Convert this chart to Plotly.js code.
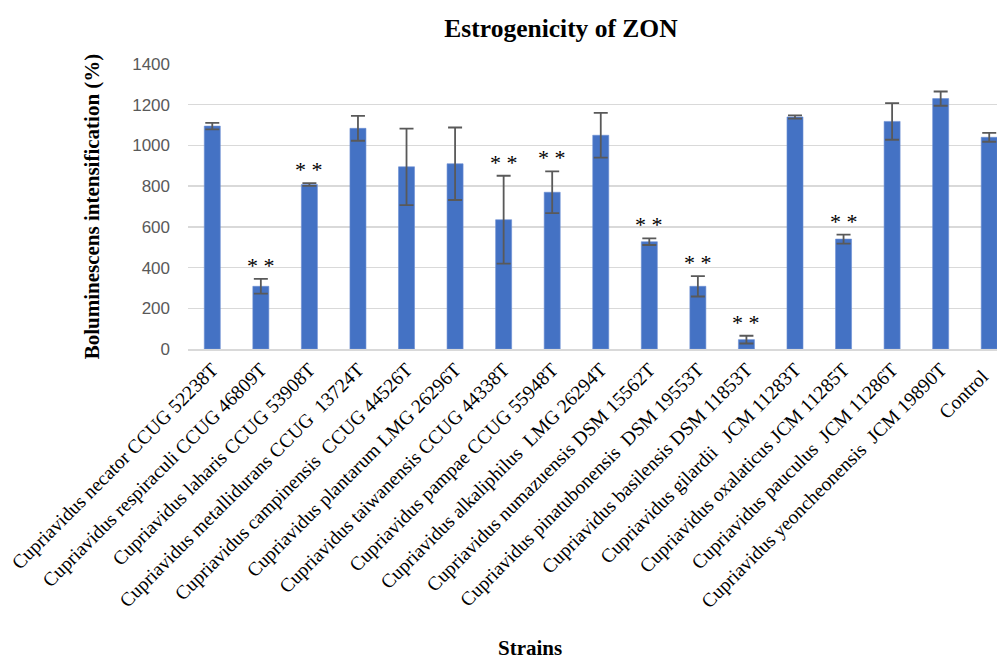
<!DOCTYPE html>
<html><head><meta charset="utf-8">
<script src="https://cdn.plot.ly/plotly-3.0.1.min.js"></script>
<style>html,body{margin:0;padding:0;background:#fff;}#chart{width:997px;height:661px;}</style>
</head><body><div id="chart"></div>
<script>
const NB = "\u00a0";
const strains = [
  "Cupriavidus necator CCUG 52238T",
  "Cupriavidus respiraculi CCUG 46809T",
  "Cupriavidus laharis CCUG 53908T",
  "Cupriavidus metallidurans CCUG " + NB + "13724T",
  "Cupriavidus campinensis " + NB + "CCUG 44526T",
  "Cupriavidus plantarum LMG 26296T",
  "Cupriavidus taiwanensis CCUG 44338T",
  "Cupriavidus pampae CCUG 55948T",
  "Cupriavidus alkaliphilus " + NB + "LMG 26294T",
  "Cupriavidus numazuensis DSM 15562T",
  "Cupriavidus pinatubonensis " + NB + "DSM 19553T",
  "Cupriavidus basilensis DSM 11853T",
  "Cupriavidus gilardii " + NB + NB + "JCM 11283T",
  "Cupriavidus oxalaticus JCM 11285T",
  "Cupriavidus pauculus " + NB + "JCM 11286T",
  "Cupriavidus yeoncheonensis " + NB + "JCM 19890T",
  "Control" + NB + NB
];
const intensification = [1095, 308, 808, 1084, 895, 910, 635, 770, 1050, 527, 308, 46, 1140, 540, 1118, 1230, 1040];
const errors = [16, 36, 7, 61, 188, 178, 216, 103, 110, 16, 50, 19, 8, 22, 90, 35, 22];
const significant = [false, true, true, false, false, false, true, true, false, true, true, true, false, true, false, false, false];

const serif = "'Liberation Serif', 'Times New Roman', serif";
const plotW = 809;

const annotations = [];
strains.forEach((s, i) => {
  if (significant[i]) {
    annotations.push({
      x: s, y: intensification[i] + errors[i], xref: 'x', yref: 'y',
      text: '* *', showarrow: false, yanchor: 'bottom', yshift: -1,
      font: {family: serif, size: 22, color: '#000'}
    });
  }
});
annotations.push({
  text: '<b>Strains</b>', xref: 'paper', yref: 'paper', x: (530 - 188) / plotW, y: -(648 - 349) / 285,
  xanchor: 'center', yanchor: 'middle', showarrow: false,
  font: {family: serif, size: 21, color: '#000'}
});

const trace = {
  type: 'bar', x: strains, y: intensification,
  width: 0.33,
  marker: {color: '#4472C4', line: {color: '#6b8fd3', width: 0.6}},
  error_y: {type: 'data', array: errors, visible: true, color: '#595959', thickness: 1.8, width: 7}
};

const layout = {
  width: 997, height: 661,
  margin: {l: 188, r: 0, t: 64, b: 312},
  paper_bgcolor: '#fff', plot_bgcolor: '#fff',
  showlegend: false,
  title: {text: '<b>Estrogenicity of ZON</b>', font: {family: serif, size: 25.5, color: '#000'},
          xref: 'paper', x: (561 - 188) / plotW, xanchor: 'center', y: 1 - 28 / 661, yref: 'container', yanchor: 'middle'},
  xaxis: {
    type: 'category', range: [-0.5, 16.16], tickangle: -45,
    tickfont: {family: serif, size: 19.5, color: '#000'},
    showgrid: false, showline: true, linecolor: '#d9d9d9', linewidth: 1.5,
    ticks: '', automargin: false
  },
  yaxis: {
    range: [0, 1400], dtick: 200, tick0: 0,
    tickfont: {family: "'Liberation Sans', Arial, sans-serif", size: 17, color: '#595959'},
    gridcolor: '#d9d9d9', gridwidth: 1.5, zeroline: false,
    ticklabelstandoff: 17, automargin: false,
    title: {text: '<b>Boluminescens intensification (%)</b>', font: {family: serif, size: 21, color: '#000'}, standoff: 26}
  },
  annotations: annotations
};

Plotly.newPlot('chart', [trace], layout, {displayModeBar: false, staticPlot: true});
</script></body></html>
